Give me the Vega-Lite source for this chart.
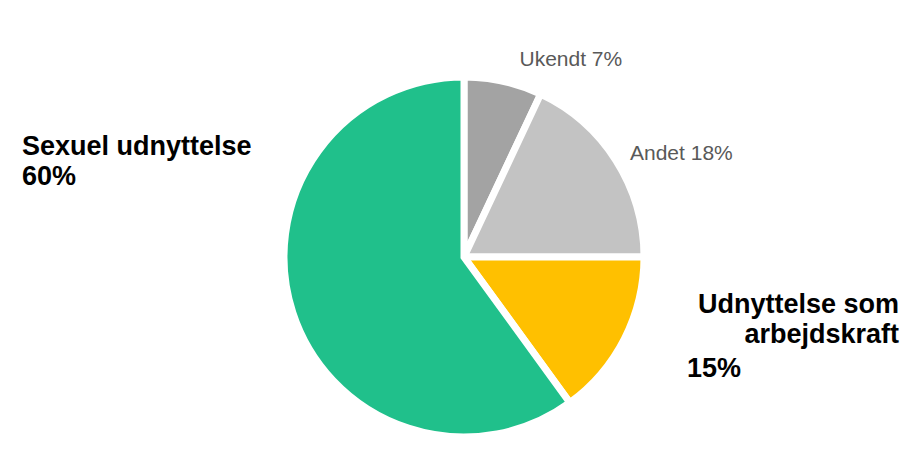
{
  "$schema": "https://vega.github.io/schema/vega-lite/v6.json",
  "autosize": "none",
  "padding": {"left": 25, "top": 64, "right": 0, "bottom": 0},
  "width": 878,
  "height": 386,
  "background": "white",
  "config": {"view": {"stroke": null}, "font": "Liberation Sans"},
  "data": {
    "values": [
      {"kategori": "Ukendt", "orden": 1, "pct": 7, "etiket": ["Ukendt 7%"], "andel": "7%"},
      {"kategori": "Andet", "orden": 2, "pct": 18, "etiket": ["Andet 18%"], "andel": "18%"},
      {"kategori": "Udnyttelse som arbejdskraft", "orden": 3, "pct": 15, "etiket": ["Udnyttelse som", "arbejdskraft"], "andel": "15%"},
      {"kategori": "Sexuel udnyttelse", "orden": 4, "pct": 60, "etiket": ["Sexuel udnyttelse", "60%"], "andel": "60%"}
    ]
  },
  "transform": [
    {"stack": "pct", "groupby": [], "sort": [{"field": "orden"}], "as": ["t0", "t1"]}
  ],
  "layer": [
    {
      "mark": {"type": "arc", "outerRadius": 180, "stroke": "white", "strokeWidth": 7, "strokeJoin": "miter"},
      "encoding": {
        "theta": {"field": "t0", "type": "quantitative", "scale": {"domain": [0, 100]}},
        "theta2": {"field": "t1"},
        "color": {
          "field": "kategori",
          "type": "nominal",
          "legend": null,
          "scale": {
            "domain": ["Ukendt", "Andet", "Udnyttelse som arbejdskraft", "Sexuel udnyttelse"],
            "range": ["#a3a3a3", "#c3c3c3", "#ffc000", "#20c08b"]
          }
        }
      }
    },
    {
      "transform": [{"filter": "datum.kategori === 'Ukendt'"}],
      "mark": {"type": "text", "radius": 211, "dx": 17, "align": "center", "baseline": "alphabetic", "fontSize": 21, "color": "#595959"},
      "encoding": {
        "theta": {"field": "t1", "type": "quantitative"},
        "text": {"field": "etiket"}
      }
    },
    {
      "transform": [{"filter": "datum.kategori === 'Andet'"}],
      "mark": {"type": "text", "radius": 166, "dy": -97, "align": "left", "baseline": "alphabetic", "fontSize": 21, "color": "#595959"},
      "encoding": {
        "theta": {"field": "t1", "type": "quantitative"},
        "text": {"field": "etiket"}
      }
    },
    {
      "transform": [{"filter": "datum.kategori === 'Udnyttelse som arbejdskraft'"}],
      "mark": {"type": "text", "radius": 435, "dy": 56, "align": "right", "baseline": "alphabetic", "fontSize": 27, "fontWeight": "bold", "lineHeight": 30, "color": "#000000"},
      "encoding": {
        "theta": {"field": "t0", "type": "quantitative"},
        "text": {"field": "etiket"}
      }
    },
    {
      "transform": [{"filter": "datum.kategori === 'Udnyttelse som arbejdskraft'"}],
      "mark": {"type": "text", "radius": 223, "dy": 120, "align": "left", "baseline": "alphabetic", "fontSize": 27, "fontWeight": "bold", "color": "#000000"},
      "encoding": {
        "theta": {"field": "t0", "type": "quantitative"},
        "text": {"field": "andel"}
      }
    },
    {
      "transform": [{"filter": "datum.kategori === 'Sexuel udnyttelse'"}],
      "mark": {"type": "text", "radius": 102, "dx": -442, "align": "left", "baseline": "alphabetic", "fontSize": 27, "fontWeight": "bold", "lineHeight": 30, "color": "#000000"},
      "encoding": {
        "theta": {"field": "t1", "type": "quantitative"},
        "text": {"field": "etiket"}
      }
    }
  ]
}
